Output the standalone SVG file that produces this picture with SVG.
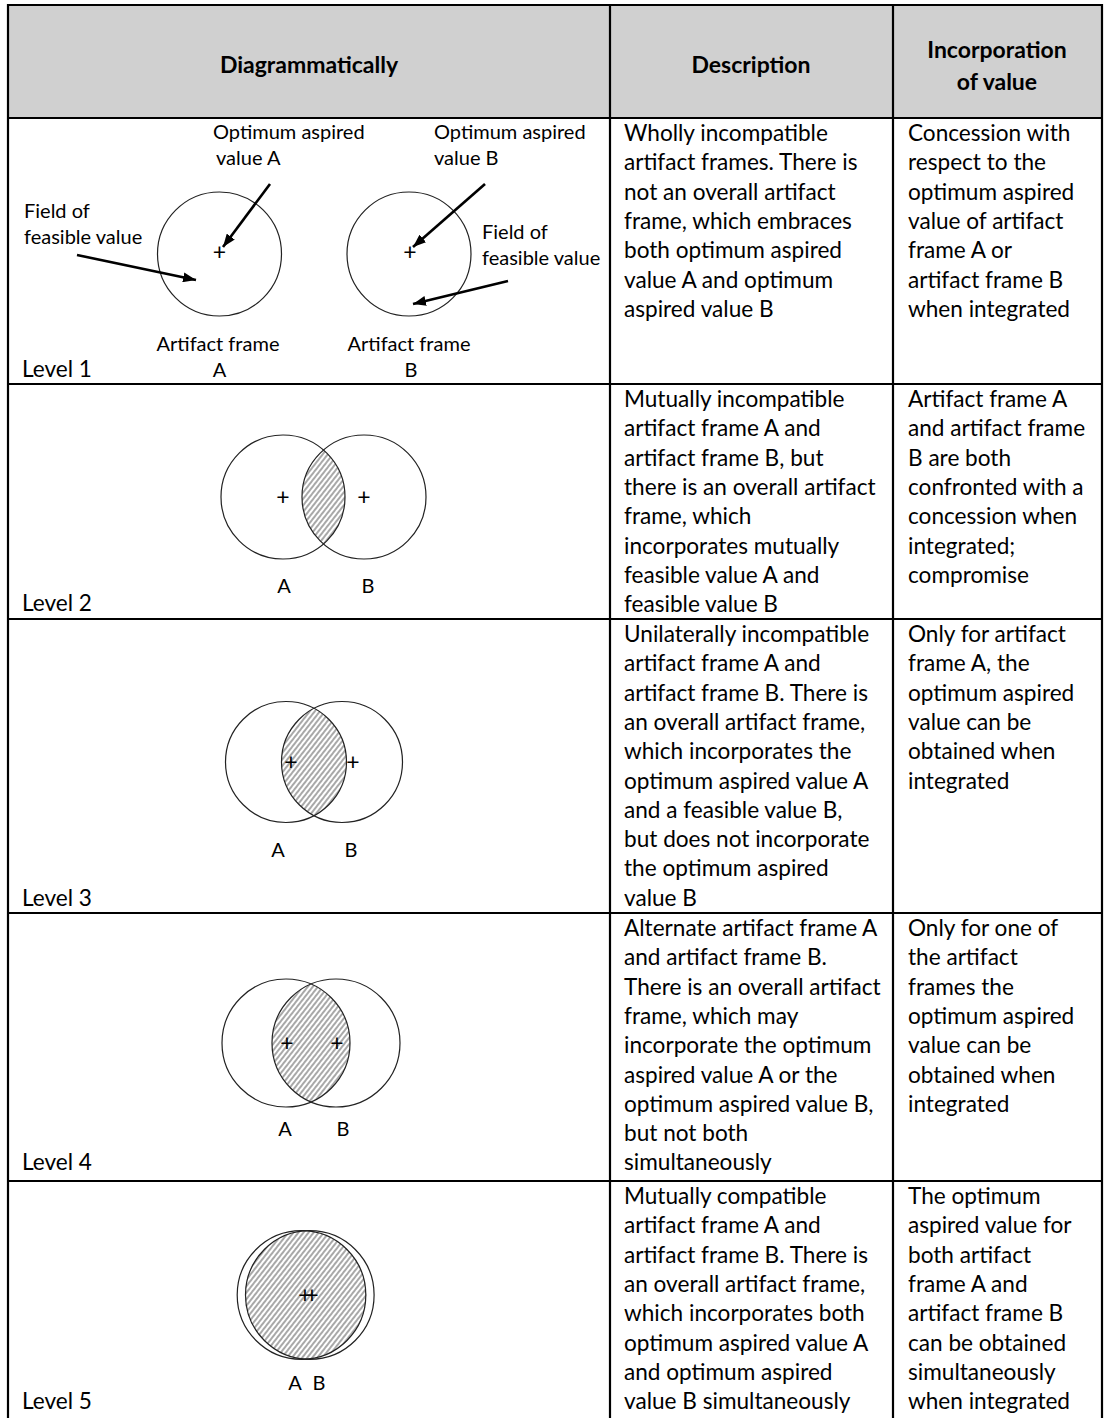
<svg xmlns="http://www.w3.org/2000/svg" width="1104" height="1418" viewBox="0 0 1104 1418">
  <style>
    .body { font-family: Lato, "Liberation Sans", sans-serif; font-size: 22.6px; fill: #000; }
    .head { font-family: Lato, "Liberation Sans", sans-serif; font-size: 23px; font-weight: bold; fill: #000; }
    .lbl { font-family: Lato, "Liberation Sans", sans-serif; font-size: 20px; fill: #000; }
    .plus { font-family: Lato, "Liberation Sans", sans-serif; font-size: 23px; fill: #000; text-anchor: middle; }
    .mid { text-anchor: middle; }
    .grid { stroke: #000; stroke-width: 2.2; fill: none; }
    .ring { stroke: #222; stroke-width: 1.2; fill: none; }
    .lens { fill: url(#hatch); stroke: none; }
    .arrow { stroke: #000; stroke-width: 2.6; fill: none; marker-end: url(#head); }
  </style>
  <defs>
    <pattern id="hatch" patternUnits="userSpaceOnUse" width="4" height="4" patternTransform="rotate(38)">
      <rect width="4" height="4" fill="#fff"/>
      <line x1="2" y1="0" x2="2" y2="4" stroke="#7a7a7a" stroke-width="1.3"/>
    </pattern>
    <marker id="head" markerUnits="userSpaceOnUse" markerWidth="15" markerHeight="10" refX="13" refY="5" orient="auto">
      <path d="M0,0 L13,5 L0,10 Z" fill="#000"/>
    </marker>
  </defs>

  <!-- table frame -->
  <g id="table">
    <rect x="8" y="5" width="1094" height="113" fill="#d0d0d0"/>
    <line class="grid" x1="8" y1="5" x2="1102" y2="5"/>
    <line class="grid" x1="8" y1="118" x2="1102" y2="118"/>
    <line class="grid" x1="8" y1="384" x2="1102" y2="384"/>
    <line class="grid" x1="8" y1="619" x2="1102" y2="619"/>
    <line class="grid" x1="8" y1="913" x2="1102" y2="913"/>
    <line class="grid" x1="8" y1="1181" x2="1102" y2="1181"/>
    <line class="grid" x1="8" y1="4" x2="8" y2="1418"/>
    <line class="grid" x1="610" y1="4" x2="610" y2="1418"/>
    <line class="grid" x1="893" y1="4" x2="893" y2="1418"/>
    <line class="grid" x1="1102" y1="4" x2="1102" y2="1418"/>
  </g>

  <!-- header row -->
  <g id="header">
    <text class="head mid" x="309" y="73">Diagrammatically</text>
    <text class="head mid" x="751" y="73">Description</text>
    <text class="head mid" x="997" y="58">Incorporation</text>
    <text class="head mid" x="997" y="90">of value</text>
  </g>

  <!-- level 1: two separate frames -->
  <g id="level1">
    <circle class="ring" cx="219.5" cy="254" r="62"/>
    <circle class="ring" cx="409" cy="254" r="62"/>
    <text class="plus" x="219.5" y="260">+</text>
    <text class="plus" x="410" y="260">+</text>
    <text class="lbl" x="213"><tspan x="213" y="139">Optimum aspired</tspan><tspan x="216" y="165">value A</tspan></text>
    <text class="lbl" x="434"><tspan x="434" y="139">Optimum aspired</tspan><tspan x="434" y="165">value B</tspan></text>
    <text class="lbl" x="24"><tspan x="24" y="218">Field of</tspan><tspan x="24" y="244">feasible value</tspan></text>
    <text class="lbl" x="482"><tspan x="482" y="239">Field of</tspan><tspan x="482" y="265">feasible value</tspan></text>
    <text class="lbl mid" x="218" y="351">Artifact frame</text>
    <text class="lbl mid" x="219.5" y="377">A</text>
    <text class="lbl mid" x="409" y="351">Artifact frame</text>
    <text class="lbl mid" x="411" y="377">B</text>
    <text class="body" x="22" y="377">Level 1</text>
  </g>

  <!-- level 2 -->
  <g id="level2">
    <path class="lens" d="M323.5,450.1 A62,62 0 0 1 323.5,543.9 A62,62 0 0 1 323.5,450.1 Z"/>
    <circle class="ring" cx="283" cy="497" r="62"/>
    <circle class="ring" cx="364" cy="497" r="62"/>
    <text class="plus" x="283" y="505">+</text>
    <text class="plus" x="364" y="505">+</text>
    <text class="lbl mid" x="284" y="593">A</text>
    <text class="lbl mid" x="368" y="593">B</text>
    <text class="body" x="22" y="611">Level 2</text>
  </g>

  <!-- level 3 -->
  <g id="level3">
    <path class="lens" d="M314,708.4 A60.5,60.5 0 0 1 314,815.6 A60.5,60.5 0 0 1 314,708.4 Z"/>
    <circle class="ring" cx="286" cy="762" r="60.5"/>
    <circle class="ring" cx="342" cy="762" r="60.5"/>
    <text class="plus" x="291" y="770">+</text>
    <text class="plus" x="353" y="770">+</text>
    <text class="lbl mid" x="278" y="857">A</text>
    <text class="lbl mid" x="351" y="857">B</text>
    <text class="body" x="22" y="906">Level 3</text>
  </g>

  <!-- level 4 -->
  <g id="level4">
    <path class="lens" d="M311,984.1 A64,64 0 0 1 311,1101.9 A64,64 0 0 1 311,984.1 Z"/>
    <circle class="ring" cx="286" cy="1043" r="64"/>
    <circle class="ring" cx="336" cy="1043" r="64"/>
    <text class="plus" x="287" y="1051">+</text>
    <text class="plus" x="337" y="1051">+</text>
    <text class="lbl mid" x="285" y="1136">A</text>
    <text class="lbl mid" x="343" y="1136">B</text>
    <text class="body" x="22" y="1170">Level 4</text>
  </g>

  <!-- level 5 -->
  <g id="level5">
    <path class="lens" d="M305.65,1230.8 A64.3,64.3 0 0 1 305.65,1359.2 A64.3,64.3 0 0 1 305.65,1230.8 Z"/>
    <circle class="ring" cx="301.5" cy="1295" r="64.3"/>
    <circle class="ring" cx="309.8" cy="1295" r="64.3"/>
    <text class="plus" x="305" y="1303">+</text>
    <text class="plus" x="312" y="1303">+</text>
    <text class="lbl mid" x="295" y="1390">A</text>
    <text class="lbl mid" x="319" y="1390">B</text>
    <text class="body" x="22" y="1409">Level 5</text>
  </g>

  <!-- pointer arrows of level 1 -->
  <g id="connectors">
    <line class="arrow" x1="270" y1="184" x2="223" y2="247"/>
    <line class="arrow" x1="485" y1="184" x2="413" y2="247"/>
    <line class="arrow" x1="77" y1="255" x2="196" y2="280"/>
    <line class="arrow" x1="508" y1="281" x2="413" y2="304"/>
  </g>

  <!-- description column -->
  <g id="descriptions" class="body">
    <text x="624"><tspan x="624" y="141">Wholly incompatible</tspan><tspan x="624" dy="29.3">artifact frames. There is</tspan><tspan x="624" dy="29.3">not an overall artifact</tspan><tspan x="624" dy="29.3">frame, which embraces</tspan><tspan x="624" dy="29.3">both optimum aspired</tspan><tspan x="624" dy="29.3">value A and optimum</tspan><tspan x="624" dy="29.3">aspired value B</tspan></text>
    <text x="624"><tspan x="624" y="407">Mutually incompatible</tspan><tspan x="624" dy="29.3">artifact frame A and</tspan><tspan x="624" dy="29.3">artifact frame B, but</tspan><tspan x="624" dy="29.3">there is an overall artifact</tspan><tspan x="624" dy="29.3">frame, which</tspan><tspan x="624" dy="29.3">incorporates mutually</tspan><tspan x="624" dy="29.3">feasible value A and</tspan><tspan x="624" dy="29.3">feasible value B</tspan></text>
    <text x="624"><tspan x="624" y="642">Unilaterally incompatible</tspan><tspan x="624" dy="29.3">artifact frame A and</tspan><tspan x="624" dy="29.3">artifact frame B. There is</tspan><tspan x="624" dy="29.3">an overall artifact frame,</tspan><tspan x="624" dy="29.3">which incorporates the</tspan><tspan x="624" dy="29.3">optimum aspired value A</tspan><tspan x="624" dy="29.3">and a feasible value B,</tspan><tspan x="624" dy="29.3">but does not incorporate</tspan><tspan x="624" dy="29.3">the optimum aspired</tspan><tspan x="624" dy="29.3">value B</tspan></text>
    <text x="624"><tspan x="624" y="936">Alternate artifact frame A</tspan><tspan x="624" dy="29.3">and artifact frame B.</tspan><tspan x="624" dy="29.3">There is an overall artifact</tspan><tspan x="624" dy="29.3">frame, which may</tspan><tspan x="624" dy="29.3">incorporate the optimum</tspan><tspan x="624" dy="29.3">aspired value A or the</tspan><tspan x="624" dy="29.3">optimum aspired value B,</tspan><tspan x="624" dy="29.3">but not both</tspan><tspan x="624" dy="29.3">simultaneously</tspan></text>
    <text x="624"><tspan x="624" y="1204">Mutually compatible</tspan><tspan x="624" dy="29.3">artifact frame A and</tspan><tspan x="624" dy="29.3">artifact frame B. There is</tspan><tspan x="624" dy="29.3">an overall artifact frame,</tspan><tspan x="624" dy="29.3">which incorporates both</tspan><tspan x="624" dy="29.3">optimum aspired value A</tspan><tspan x="624" dy="29.3">and optimum aspired</tspan><tspan x="624" dy="29.3">value B simultaneously</tspan></text>
  </g>

  <!-- incorporation of value column -->
  <g id="incorporation" class="body">
    <text x="908"><tspan x="908" y="141">Concession with</tspan><tspan x="908" dy="29.3">respect to the</tspan><tspan x="908" dy="29.3">optimum aspired</tspan><tspan x="908" dy="29.3">value of artifact</tspan><tspan x="908" dy="29.3">frame A or</tspan><tspan x="908" dy="29.3">artifact frame B</tspan><tspan x="908" dy="29.3">when integrated</tspan></text>
    <text x="908"><tspan x="908" y="407">Artifact frame A</tspan><tspan x="908" dy="29.3">and artifact frame</tspan><tspan x="908" dy="29.3">B are both</tspan><tspan x="908" dy="29.3">confronted with a</tspan><tspan x="908" dy="29.3">concession when</tspan><tspan x="908" dy="29.3">integrated;</tspan><tspan x="908" dy="29.3">compromise</tspan></text>
    <text x="908"><tspan x="908" y="642">Only for artifact</tspan><tspan x="908" dy="29.3">frame A, the</tspan><tspan x="908" dy="29.3">optimum aspired</tspan><tspan x="908" dy="29.3">value can be</tspan><tspan x="908" dy="29.3">obtained when</tspan><tspan x="908" dy="29.3">integrated</tspan></text>
    <text x="908"><tspan x="908" y="936">Only for one of</tspan><tspan x="908" dy="29.3">the artifact</tspan><tspan x="908" dy="29.3">frames the</tspan><tspan x="908" dy="29.3">optimum aspired</tspan><tspan x="908" dy="29.3">value can be</tspan><tspan x="908" dy="29.3">obtained when</tspan><tspan x="908" dy="29.3">integrated</tspan></text>
    <text x="908"><tspan x="908" y="1204">The optimum</tspan><tspan x="908" dy="29.3">aspired value for</tspan><tspan x="908" dy="29.3">both artifact</tspan><tspan x="908" dy="29.3">frame A and</tspan><tspan x="908" dy="29.3">artifact frame B</tspan><tspan x="908" dy="29.3">can be obtained</tspan><tspan x="908" dy="29.3">simultaneously</tspan><tspan x="908" dy="29.3">when integrated</tspan></text>
  </g>
</svg>
